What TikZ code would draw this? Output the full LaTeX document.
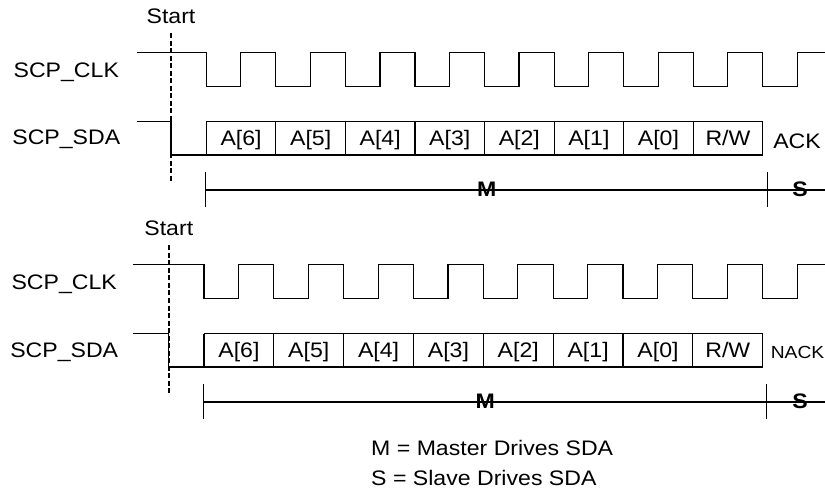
\documentclass[tikz,border=0pt]{standalone}
\usepackage{fontspec}
\setmainfont{Liberation Sans}[FakeStretch=1.1]
\tikzset{
  lbl/.style={font=\fontsize{21}{25}\selectfont, inner sep=0pt, anchor=base},
  boldlbl/.style={font=\fontsize{21}{25}\selectfont\bfseries, inner sep=0pt, anchor=base},
  smalllbl/.style={font=\fontsize{17.5}{21}\selectfont, inner sep=0pt, anchor=base},
  wave/.style={line width=1.2pt, line join=miter},
  startline/.style={line width=1.6pt, dash pattern=on 5pt off 2.5pt},
}
% #1 prefix, #2 y offset, #3 x start, #4 start x, #5 first fall, #6 period, #7 right tick, #8 label centre x
\newcommand\tdsection[8]{%
\begin{scope}[yshift=-#2pt]
  \pgfmathsetmacro\fe{#5+8*#6}
  \node[lbl] (#1start) at (#4,24) {Start};
  \draw[startline] (#4,33.5) -- (#4,181.5);
  \node[lbl] (#1clklbl) at (#8,78) {SCP\_CLK};
  \node[lbl] (#1sdalbl) at (#8,145) {SCP\_SDA};
  % clock
  \draw[wave] (#3,52.3) foreach \k in {0,...,8} {
      -- ({#5+\k*#6},52.3) -- ({#5+\k*#6},86.7)
      -- ({#5+\k*#6+34.5},86.7) -- ({#5+\k*#6+34.5},52.3) } -- (825,52.3);
  % data
  \draw[wave] (#3,121.7) -- (#4,121.7) -- (#4,155) -- (\fe,155);
  \draw[wave] (#5,121.7) -- (\fe,121.7);
  \foreach \k in {0,...,8} \draw[wave] ({#5+\k*#6},121.7) -- ({#5+\k*#6},155);
  \foreach \t [count=\i from 0] in {{A[6]},{A[5]},{A[4]},{A[3]},{A[2]},{A[1]},{A[0]},{R/W}}
    \node[lbl] (#1b\i) at ({#5+(\i+0.5)*#6},145.5) {\t};
  % driver bar
  \draw[wave] (#5-0.5,190) -- (825,190);
  \draw[wave] (#5-0.5,172.3) -- (#5-0.5,207);
  \draw[wave] (#7,172.3) -- (#7,207);
  \node[boldlbl] (#1M) at ({(#5+#7)/2},196.7) {M};
  \node[boldlbl] (#1S) at (800,196.7) {S};
\end{scope}}
\begin{document}
\begin{tikzpicture}[x=1pt,y=-1pt]
\useasboundingbox (0,0) rectangle (825,489);
\tdsection{t}{0}{136.7}{171}{206.3}{69.56}{767.3}{66.3}
\tdsection{b}{212}{133.3}{168.8}{204}{69.84}{766.7}{64.2}
\node[lbl] (ack) at (797,149) {ACK};
\node[smalllbl] (nack) at (797.5,358.3) {NACK};
\node[lbl, anchor=base west] (leg1) at (371,455) {M = Master Drives SDA};
\node[lbl, anchor=base west] (leg2) at (371,485) {S = Slave Drives SDA};
\end{tikzpicture}
\end{document}
